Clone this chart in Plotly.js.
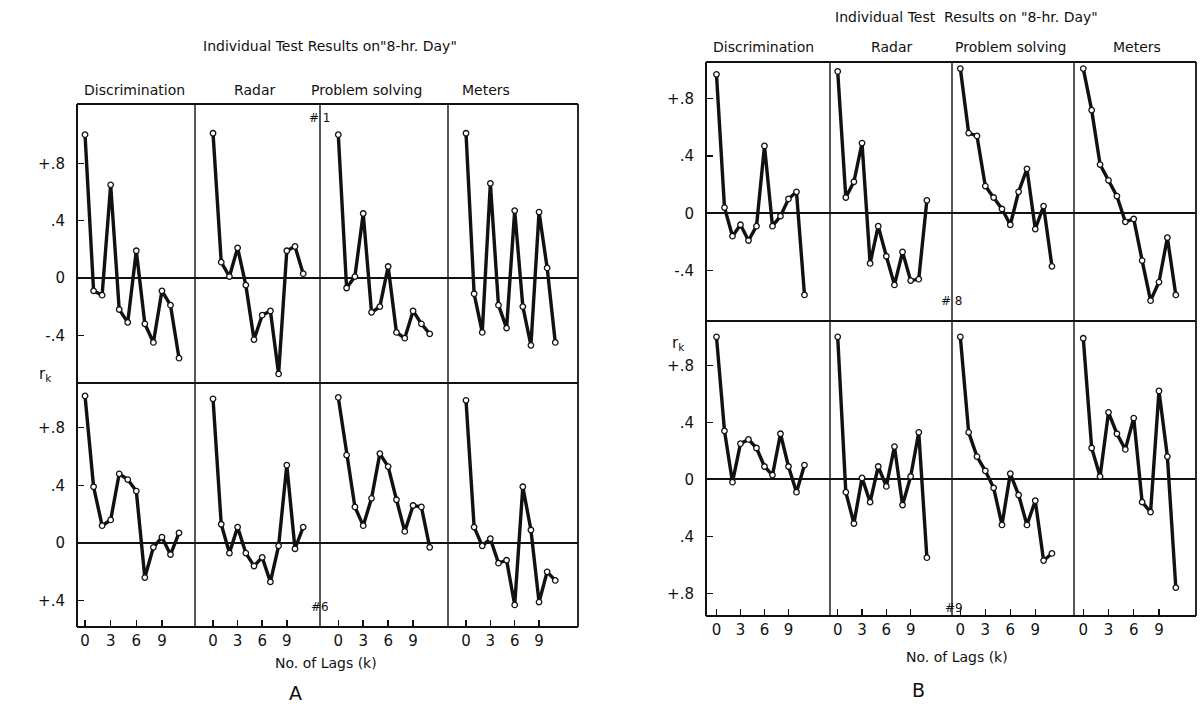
<!DOCTYPE html>
<html><head><meta charset="utf-8">
<script src="https://cdn.plot.ly/plotly-3.0.1.min.js"></script>
<style>html,body{margin:0;padding:0;background:#fff}#chart{width:1204px;height:710px}</style>
</head><body><div id="chart"></div>
<script>
// ---------- DATA ----------
const lags = [0,1,2,3,4,5,6,7,8,9,10,11];
const tests = ["Discrimination","Radar","Problem solving","Meters"];
const panelTitle = 'Individual Test Results on"8-hr. Day"';
const panelTitleB = 'Individual Test  Results on "8-hr. Day"';
const subjects = ["# 1","#6","# 8","#9"];

// Panel A, top row (subject #1)
const A1_disc   = [1.00,-0.09,-0.12,0.65,-0.22,-0.31,0.19,-0.32,-0.45,-0.09,-0.19,-0.56];
const A1_radar  = [1.01,0.11,0.01,0.21,-0.05,-0.43,-0.26,-0.23,-0.67,0.19,0.22,0.03];
const A1_prob   = [1.00,-0.07,0.01,0.45,-0.24,-0.20,0.08,-0.38,-0.42,-0.23,-0.32,-0.39];
const A1_meters = [1.01,-0.11,-0.38,0.66,-0.19,-0.35,0.47,-0.20,-0.47,0.46,0.07,-0.45];
// Panel A, bottom row (subject #6)
const A6_disc   = [1.02,0.39,0.12,0.16,0.48,0.44,0.36,-0.24,-0.03,0.04,-0.08,0.07];
const A6_radar  = [1.00,0.13,-0.07,0.11,-0.07,-0.16,-0.10,-0.27,-0.02,0.54,-0.04,0.11];
const A6_prob   = [1.01,0.61,0.25,0.12,0.31,0.62,0.53,0.30,0.08,0.26,0.25,-0.03];
const A6_meters = [0.99,0.11,-0.02,0.03,-0.14,-0.12,-0.43,0.39,0.09,-0.41,-0.20,-0.26];
// Panel B, top row (subject #8)
const B8_disc   = [0.97,0.04,-0.16,-0.08,-0.19,-0.09,0.47,-0.09,-0.02,0.10,0.15,-0.57];
const B8_radar  = [0.99,0.11,0.22,0.49,-0.35,-0.09,-0.30,-0.50,-0.27,-0.47,-0.46,0.09];
const B8_prob   = [1.01,0.56,0.54,0.19,0.11,0.03,-0.08,0.15,0.31,-0.11,0.05,-0.37];
const B8_meters = [1.01,0.72,0.34,0.23,0.12,-0.06,-0.04,-0.33,-0.61,-0.48,-0.17,-0.57];
// Panel B, bottom row (subject #9)
const B9_disc   = [1.00,0.34,-0.02,0.25,0.28,0.22,0.09,0.03,0.32,0.09,-0.09,0.10];
const B9_radar  = [1.00,-0.09,-0.31,0.01,-0.16,0.09,-0.05,0.23,-0.18,0.02,0.33,-0.55];
const B9_prob   = [1.00,0.33,0.16,0.06,-0.06,-0.32,0.04,-0.11,-0.32,-0.15,-0.57,-0.52];
const B9_meters = [0.99,0.22,0.02,0.47,0.32,0.21,0.43,-0.16,-0.23,0.62,0.16,-0.76];

const xTickVals = [0,3,6,9];
const xTickText = ["0","3","6","9"];
const yTickValsA1 = [0.8,0.4,0,-0.4];     const yTickTextA1 = ["+.8",".4","0","-.4"];
const yTickValsA6 = [0.8,0.4,0,-0.4];     const yTickTextA6 = ["+.8",".4","0","+.4"];
const yTickValsB8 = [0.8,0.4,0,-0.4];     const yTickTextB8 = ["+.8",".4","0","-.4"];
const yTickValsB9 = [0.8,0.4,0,-0.4,-0.8]; const yTickTextB9 = ["+.8",".4","0",".4","+.8"];

// ---------- LAYOUT GEOMETRY (pixels) ----------
const W = 1204, H = 710;
const FONT = "DejaVu Sans, sans-serif";
const INK = '#111';
const panels = [
  { cols:[77,195,320,448,578], rows:[104,383,627],
    xr:[[-0.94,12.87],[-2.2,13.05],[-2.2,13.2],[-2.22,13.8]],
    yr:[[-0.733,1.214],[-0.583,1.110]],
    data:[[A1_disc,A1_radar,A1_prob,A1_meters],[A6_disc,A6_radar,A6_prob,A6_meters]],
    yt:[[yTickValsA1,yTickTextA1],[yTickValsA6,yTickTextA6]] },
  { cols:[706,830,952,1074,1196], rows:[62,321,616],
    xr:[[-1.31,14.19],[-0.95,14.1],[-1.0,13.65],[-1.1,13.4]],
    yr:[[-0.752,1.056],[-0.959,1.111]],
    data:[[B8_disc,B8_radar,B8_prob,B8_meters],[B9_disc,B9_radar,B9_prob,B9_meters]],
    yt:[[yTickValsB8,yTickTextB8],[yTickValsB9,yTickTextB9]] }
];

const traces = [];
const layout = {
  width: W, height: H, margin:{l:0,r:0,t:0,b:0},
  paper_bgcolor:'#fff', plot_bgcolor:'rgba(0,0,0,0)',
  showlegend:false, font:{family:FONT, color:INK, size:14},
  annotations: [], shapes: []
};

let idx = 0;
panels.forEach((p, pi) => {
  for (let r = 0; r < 2; r++) {
    for (let c = 0; c < 4; c++) {
      idx++;
      const xn = 'x' + (idx === 1 ? '' : idx), yn = 'y' + (idx === 1 ? '' : idx);
      const xk = 'xaxis' + (idx === 1 ? '' : idx), yk = 'yaxis' + (idx === 1 ? '' : idx);
      layout[xk] = {
        domain:[p.cols[c]/W, p.cols[c+1]/W], range:p.xr[c], anchor:yn,
        showline:false, showgrid:false, zeroline:false,
        ticks: r === 1 ? 'inside' : '', ticklen:7, tickwidth:1.5, tickcolor:INK,
        tickvals:xTickVals, ticktext:xTickText, showticklabels: r === 1,
        ticklabelstandoff: 3,
        tickfont:{size:15, family:FONT}, fixedrange:true
      };
      layout[yk] = {
        domain:[1 - p.rows[r+1]/H, 1 - p.rows[r]/H], range:p.yr[r], anchor:xn,
        showline:false, showgrid:false,
        zeroline:true, zerolinecolor:INK, zerolinewidth: pi === 0 ? 1.4 : 2,
        ticks: c === 0 ? 'inside' : '', ticklen:7, tickwidth:1.5, tickcolor:INK,
        tickvals:p.yt[r][0], ticktext:p.yt[r][1], showticklabels: c === 0,
        ticklabelstandoff: 11,
        tickfont:{size:15, family:FONT}, fixedrange:true
      };
      traces.push({
        type:'scatter', mode:'lines+markers', x:lags, y:p.data[r][c],
        xaxis:xn, yaxis:yn, cliponaxis:false,
        line:{color:INK, width:3.4},
        marker:{size:5.5, color:'#fff', line:{color:INK, width:1.3}},
        hoverinfo:'skip'
      });
    }
  }
  // frames: outer box, row separator, column dividers
  const X = v => v / W, Y = v => 1 - v / H;
  const ln = (x0,y0,x1,y1,w) => layout.shapes.push({type:'line', xref:'paper', yref:'paper',
    x0:X(x0), y0:Y(y0), x1:X(x1), y1:Y(y1), line:{color:INK, width:w}, layer:'below'});
  ln(p.cols[0], p.rows[0], p.cols[4], p.rows[0], 2);
  ln(p.cols[0], p.rows[2], p.cols[4], p.rows[2], 2);
  ln(p.cols[0], p.rows[0], p.cols[0], p.rows[2], 2);
  ln(p.cols[4], p.rows[0], p.cols[4], p.rows[2], 1.8);
  ln(p.cols[0], p.rows[1], p.cols[4], p.rows[1], 1.8);
  for (let c = 1; c < 4; c++) ln(p.cols[c], p.rows[0], p.cols[c], p.rows[2], 1.4);
});

function ann(text, x, y, size, extra) {
  layout.annotations.push(Object.assign({
    text:text, x:x/W, y:1 - y/H, xref:'paper', yref:'paper',
    xanchor:'center', yanchor:'middle', showarrow:false,
    font:{family:FONT, size:size, color:INK}
  }, extra || {}));
}

// Panel titles
ann(panelTitle, 330, 46, 14);
ann(panelTitleB, 966, 17, 14);
// column headers
const headA = [134, 254, 366, 486];
const headB = [763, 891, 1010, 1137];
tests.forEach((t, i) => { ann(t, headA[i], 90, 14); ann(t, headB[i], 47, 14); });
// r_k labels
ann('r<sub>k</sub>', 45, 374, 15);
ann('r<sub>k</sub>', 678, 343, 15);
// subject numbers
ann(subjects[0], 320, 118, 12);
ann(subjects[1], 320, 607, 12);
ann(subjects[2], 952, 301, 12);
ann(subjects[3], 954, 608, 12);
// x axis titles
ann('No. of Lags (k)', 326, 663, 14);
ann('No. of Lags (k)', 957, 657, 14);
// panel letters
ann('A', 295, 693, 19);
ann('B', 918, 690, 19);

Plotly.newPlot('chart', traces, layout, {staticPlot:true, displayModeBar:false});
</script>
</body></html>
